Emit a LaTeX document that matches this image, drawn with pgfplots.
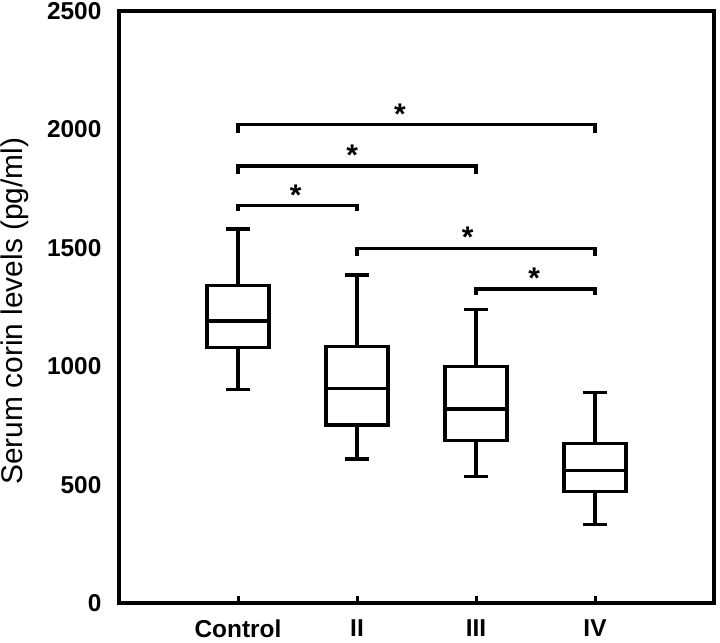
\documentclass[border=0pt]{standalone}
\usepackage{fontspec}
\setmainfont{Liberation Sans}
\usepackage{pgfplots}
\pgfplotsset{compat=1.18}
\usepgfplotslibrary{statistics}

\begin{document}
\begin{tikzpicture}
\begin{axis}[
    scale only axis,
    width=595bp, height=592bp,
    xmin=0, xmax=5,
    ymin=0, ymax=2500,
    line width=3.2bp,
    xtick={1,2,3,4},
    xticklabels={Control,II,III,IV},
    ytick={0,500,1000,1500,2000,2500},
    tick pos=left,
    axis line style={line width=3.2bp},
    x tick style={line width=3bp, black},
    y tick style={draw=none},
    tick align=inside,
    major tick length=7bp,
    /pgf/number format/assume math mode=true,
    /pgf/number format/1000 sep={},
    tick label style={font=\fontsize{24.5}{27}\selectfont\bfseries},
    yticklabel style={anchor=east, inner sep=0pt, xshift=-16bp},
    xticklabel style={anchor=north, inner sep=0pt, yshift=-15bp},
    ylabel={Serum corin levels (pg/ml)},
    ylabel style={font=\fontsize{30}{32}\selectfont,
        at={(axis description cs:-0.175,0.493)}, anchor=center},
    clip=false,
    boxplot/draw direction=y,
    every boxplot/.style={draw=black, line width=3.2bp},
]
% box plots: lw, lq, median, uq, uw
\addplot+[mark=none, black, line width=3.2bp, boxplot prepared={
    draw position=1, lower whisker=902, lower quartile=1078,
    median=1191, upper quartile=1340, upper whisker=1579,
    box extend=0.52, whisker extend=0.2}] coordinates {};
\addplot+[mark=none, black, line width=3.2bp, boxplot prepared={
    draw position=2, lower whisker=608, lower quartile=752,
    median=907, upper quartile=1084, upper whisker=1385,
    box extend=0.52, whisker extend=0.2}] coordinates {};
\addplot+[mark=none, black, line width=3.2bp, boxplot prepared={
    draw position=3, lower whisker=535, lower quartile=687,
    median=819, upper quartile=998, upper whisker=1239,
    box extend=0.52, whisker extend=0.2}] coordinates {};
\addplot+[mark=none, black, line width=3.2bp, boxplot prepared={
    draw position=4, lower whisker=332, lower quartile=470,
    median=560, upper quartile=673, upper whisker=888,
    box extend=0.52, whisker extend=0.2}] coordinates {};

% significance brackets
\addplot[black, line width=3.2bp, mark=none] coordinates {(1,1984) (1,2019) (4,2019) (4,1984)};
\addplot[black, line width=3.2bp, mark=none] coordinates {(1,1812) (1,1845) (3,1845) (3,1812)};
\addplot[black, line width=3.2bp, mark=none] coordinates {(1,1657) (1,1677) (2,1677) (2,1657)};
\addplot[black, line width=3.2bp, mark=none] coordinates {(2,1467) (2,1498) (4,1498) (4,1467)};
\addplot[black, line width=3.2bp, mark=none] coordinates {(3,1301) (3,1326) (4,1326) (4,1301)};

\begin{scope}[every node/.style={font=\fontsize{30}{32}\selectfont\bfseries, inner sep=0pt}]
\node at (axis cs:2.36,2066) {*};
\node at (axis cs:1.96,1892) {*};
\node at (axis cs:1.485,1724) {*};
\node at (axis cs:2.93,1545) {*};
\node at (axis cs:3.49,1373) {*};
\end{scope}
\end{axis}
\pgfresetboundingbox
\path[use as bounding box] ([xshift=-119bp,yshift=-40bp]current axis.south west)
    rectangle ([xshift=6bp,yshift=11bp]current axis.north east);
\end{tikzpicture}
\end{document}
